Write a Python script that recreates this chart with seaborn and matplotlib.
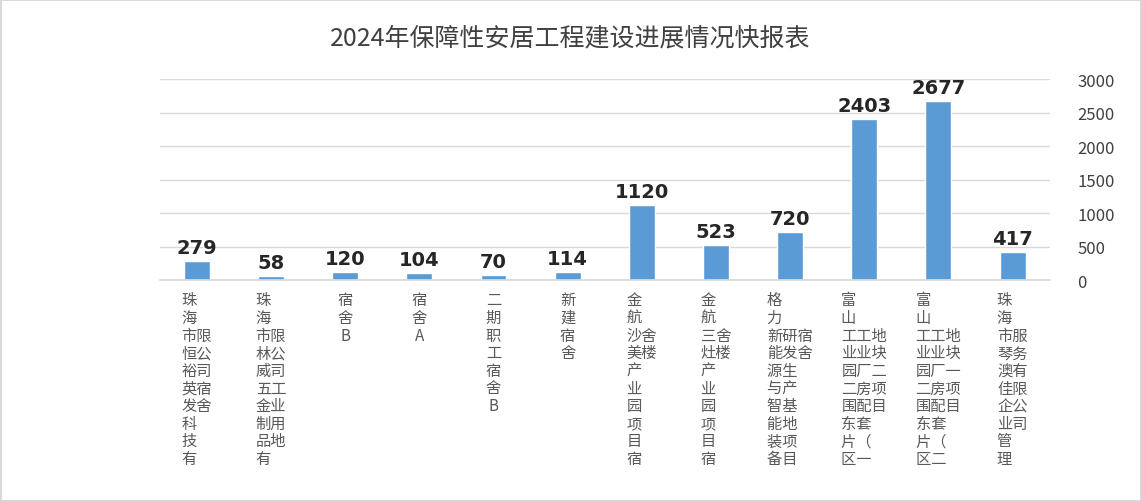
import matplotlib
matplotlib.use("Agg")
import matplotlib.pyplot as plt
import seaborn as sns
import pandas as pd

categories = ["珠海市恒裕英发科技有限公司宿舍", "珠海市林威五金制品有限公司工业用地", "宿舍B", "宿舍A",
              "二期职工宿舍B", "新建宿舍", "金航沙美产业园项目宿舍楼", "金航三灶产业园项目宿舍楼",
              "格力新能源与智能装备研发生产基地项目员工宿舍",
              "富山工业园二围东片区工业厂房配套（一期）地块二项目",
              "富山工业园二围东片区工业厂房配套（二期）地块一项目",
              "珠海市琴澳佳企业管理服务有限公司"]
values = [279, 58, 120, 104, 70, 114, 1120, 523, 720, 2403, 2677, 417]
title = "2024年保障性安居工程建设进展情况快报表"

sns.set_theme(style="white")
plt.rcParams['font.family'] = ['Noto Sans CJK SC', 'DejaVu Sans']

def vert(s, n=10, off=2):
    cols = [s[i:i+n] for i in range(0, len(s), n)]
    if len(cols) == 1:
        return "\n".join(s)
    rows = []
    for r in range(n):
        row = cols[0][r] if r < len(cols[0]) else "\u3000"
        for c in cols[1:]:
            k = r - off
            row += c[k] if 0 <= k < len(c) else "\u3000"
        rows.append(row)
    return "\n".join(rows)

df = pd.DataFrame({"cat": categories, "val": values})
fig, ax = plt.subplots(figsize=(11.41, 5.02), dpi=100)
fig.subplots_adjust(left=0.14, right=0.92, top=0.84, bottom=0.44)
sns.barplot(data=df, x="cat", y="val", color="#5B9BD5", saturation=1, width=0.35, ax=ax)
ax.set_ylim(0, 3000)
ax.set_yticks(range(0, 3001, 500))
ax.yaxis.tick_right()
ax.grid(axis="y", color="#D9D9D9", lw=1)
ax.set_axisbelow(True)
for s in ["top", "left", "right"]:
    ax.spines[s].set_visible(False)
ax.spines["bottom"].set_color("#D9D9D9")
ax.tick_params(axis="y", labelsize=12, labelcolor="#404040", length=0, pad=20)
ax.set_xticks(range(len(categories)))
ax.set_xticklabels([vert(c) for c in categories], fontsize=11, color="#595959",
                   va="top", linespacing=1.05)
ax.tick_params(axis="x", length=0, pad=8)
for i, v in enumerate(values):
    ax.text(i, v + 60, str(v), ha="center", va="bottom", fontsize=14, color="#262626",
            family="DejaVu Sans", fontweight="bold")
ax.set_xlabel("")
ax.set_ylabel("")
fig.suptitle(title, fontsize=18, color="#404040", y=0.95)
fig.patch.set_edgecolor("#D9D9D9")
fig.patch.set_linewidth(1)
fig.savefig("out.png", dpi=100, edgecolor=fig.get_edgecolor())
